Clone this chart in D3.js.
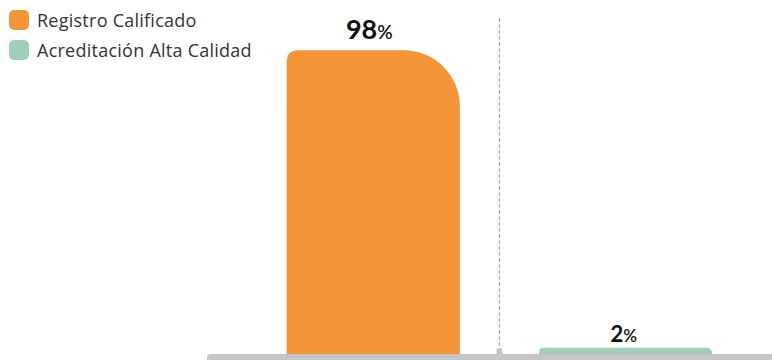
<!DOCTYPE html>
<html><head><meta charset="utf-8">
<script src="https://cdn.jsdelivr.net/npm/d3@7"></script>
<style>html,body{margin:0;padding:0;background:#fff;overflow:hidden}</style>
</head><body>
<svg id="c" width="772" height="360"></svg>
<script>
const categories = ["Registro Calificado", "Acreditación Alta Calidad"];
const values = [98, 2];
const colors = ["#F4953A", "#9FD0B7"];
const labels = ["98", "2"];

const svg = d3.select("#c");
const W = 772, H = 360;
const baseY = 354;
const x = d3.scaleBand().domain(categories).range([247, 752]).paddingInner(0.314).paddingOuter(0.157);
const y = d3.scaleLinear().domain([0, 100]).range([baseY, 44]);

// divider
const divX = (x(categories[0]) + x.bandwidth() + x(categories[1])) / 2;
svg.append("line").attr("x1", divX).attr("x2", divX).attr("y1", 18).attr("y2", baseY)
  .attr("stroke", "#aaaaaa").attr("stroke-width", 1.2).attr("stroke-dasharray", "4,2");
svg.append("path")
  .attr("d", `M${divX-3},${baseY} L${divX-3},${baseY-4} Q${divX-3},${baseY-6} ${divX},${baseY-6} Q${divX+3},${baseY-6} ${divX+3},${baseY-4} L${divX+3},${baseY} Z`)
  .attr("fill", "#c6c6c6");

function barPath(x0, y0, w, h, rl, rr) {
  rl = Math.min(rl, h, w/2); rr = Math.min(rr, h, w/2);
  return `M${x0},${y0+h} L${x0},${y0+rl} Q${x0},${y0} ${x0+rl},${y0} L${x0+w-rr},${y0} ` +
    `C${x0+w-rr*0.45},${y0} ${x0+w},${y0+rr*0.45} ${x0+w},${y0+rr} L${x0+w},${y0+h} Z`;
}

categories.forEach((c, i) => {
  const x0 = x(c), w = x.bandwidth(), y0 = y(values[i]), h = baseY - y0;
  const big = i === 0;
  svg.append("path").attr("d", barPath(x0, y0, w, h, big ? 12 : 4, big ? 56 : 6)).attr("fill", colors[i]);
  const t = svg.append("text").attr("x", x0 + w/2 - (big ? 4 : 2)).attr("y", big ? y0 - 11 : y0 - 6)
    .attr("text-anchor", "middle").attr("font-family", "Lato, sans-serif").attr("font-weight", 700).attr("fill", "#111");
  t.append("tspan").attr("font-size", big ? 27 : 22).text(labels[i]);
  t.append("tspan").attr("font-size", big ? 19 : 17).attr("font-weight", 600).text("%");
});

// axis baseline
svg.append("rect").attr("x", 207).attr("y", baseY).attr("width", W).attr("height", 12).attr("rx", 4).attr("fill", "#c6c6c6");

// legend
const lg = svg.append("g");
categories.forEach((c, i) => {
  lg.append("rect").attr("x", 9).attr("y", 10 + i*30).attr("width", 20).attr("height", 20).attr("rx", 5).attr("fill", colors[i]);
  lg.append("text").attr("x", 37).attr("y", 27 + i*30).attr("font-family", "'Open Sans', sans-serif")
    .attr("font-size", 18).attr("letter-spacing", 0.25).attr("fill", "#333").text(c);
});
</script>
</body></html>
